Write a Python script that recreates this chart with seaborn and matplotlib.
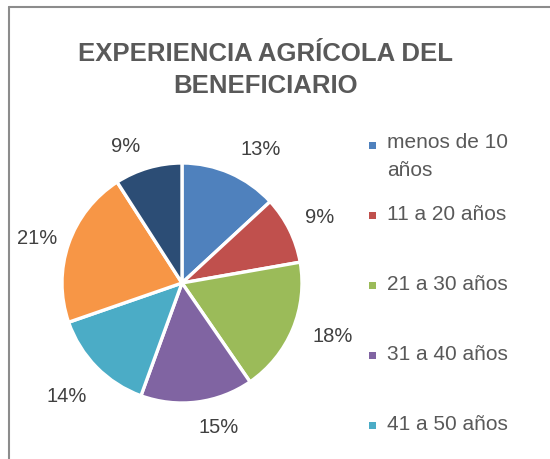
import matplotlib
matplotlib.use("Agg")
import matplotlib.pyplot as plt
import seaborn as sns
import numpy as np
from matplotlib.patches import Rectangle
from matplotlib.lines import Line2D

# Data
categories = ["menos de 10 años", "11 a 20 años", "21 a 30 años", "31 a 40 años",
              "41 a 50 años", "51 a 60 años", "más de 60 años"]
legend_labels = ["menos de 10\naños", "11 a 20 años", "21 a 30 años", "31 a 40 años",
                 "41 a 50 años"]
values = [13, 9, 18, 15, 14, 21, 9]
colors = ["#4F81BD", "#C0504D", "#9BBB59", "#8064A2", "#4BACC6", "#F79646", "#2C4D75"]
title = "EXPERIENCIA AGRÍCOLA DEL\nBENEFICIARIO"

# label placement (distance from centre in radii, angular nudge in degrees) - style only
label_dist = [1.29, 1.27, 1.33, 1.24, 1.35, 1.26, 1.23]
label_nudge = [-7, -1, 3, 7, 0, 2, 6]

sns.set_theme(style="white")
plt.rcParams["font.family"] = ["Liberation Sans", "DejaVu Sans"]

W, H = 550, 459
fig = plt.figure(figsize=(W / 100, H / 100), dpi=100)
fig.patch.set_facecolor("white")

# Chart border (partially visible)
fig.add_artist(Line2D([9 / W, 9 / W], [0, 1 - 7 / H], transform=fig.transFigure,
                      color="#8C8C8C", lw=1.5))
fig.add_artist(Line2D([9 / W, 1], [1 - 7 / H, 1 - 7 / H], transform=fig.transFigure,
                      color="#8C8C8C", lw=1.5))

cx, cy, r = 182, 283, 120
ax = fig.add_axes([(cx - r) / W, (H - cy - r) / H, 2 * r / W, 2 * r / H])
wedges, _, autotexts = ax.pie(
    values, colors=colors, startangle=90, counterclock=False,
    autopct=lambda p: f"{p:.0f}%", pctdistance=1.28,
    wedgeprops=dict(edgecolor="white", linewidth=2.4),
    textprops=dict(color="#404040", fontsize=14.5),
)
for w, t, d, n in zip(wedges, autotexts, label_dist, label_nudge):
    ang = np.deg2rad((w.theta1 + w.theta2) / 2 + n)
    t.set_position((d * np.cos(ang), d * np.sin(ang)))
ax.set_xlim(-1, 1)
ax.set_ylim(-1, 1)
ax.set_aspect("equal")
ax.axis("off")

fig.text(266 / W, 1 - 70 / H, title, ha="center", va="center", fontsize=18.5,
         fontweight="bold", color="#595959", linespacing=1.45)

# Legend (clipped at the bottom like the reference; only first five entries visible)
marker_x = 372
text_x = 387
ys = [145, 215, 285, 355, 425]
for i, lab in enumerate(legend_labels):
    y = ys[i]
    s = 7
    fig.add_artist(Rectangle(((marker_x - s / 2) / W, 1 - (y + s / 2) / H), s / W, s / H,
                             transform=fig.transFigure, facecolor=colors[i],
                             edgecolor="none"))
    if "\n" in lab:
        fig.text(text_x / W, 1 - (y - 12) / H, lab, ha="left", va="top",
                 fontsize=15, color="#595959", linespacing=1.6)
    else:
        fig.text(text_x / W, 1 - y / H, lab, ha="left", va="center",
                 fontsize=15, color="#595959")

fig.savefig("out.png", dpi=100, facecolor="white")
